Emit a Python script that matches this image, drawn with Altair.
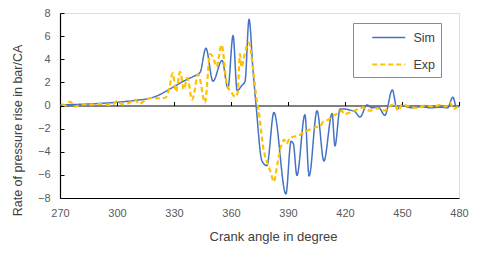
import altair as alt
import pandas as pd

sim_deg = [270, 280, 290, 300, 310, 317, 322, 328, 335, 340, 343.7, 346.8, 350.5, 355.3, 358.4,
           361.1, 363.2, 365.8, 367.4, 369.5, 371.6, 373.2, 376.3, 378.9, 382.6, 388.9, 391.6,
           392.8, 394.7, 398.9, 401.1, 405.3, 408.9, 413.2, 414.7, 417.4, 419.5, 422.6, 425,
           427.9, 431.6, 434.2, 437.4, 441, 444.9, 447.4, 450, 455, 460, 465, 470, 474, 476.8,
           478.6, 480]
sim_val = [0.05, 0.1, 0.17, 0.28, 0.45, 0.62, 0.9, 1.45, 2.1, 2.5, 2.85, 4.95, 2.1, 3.9, 1.5,
           6.05, 1.3, 1.75, 2.1, 7.45, 3.0, 0.0, -4.8, -5.2, -0.6, -7.65, -3.1,
           -3.3, -6.05, -0.8, -6.1, -0.45, -4.8, -0.7, -3.5, -0.3, -0.3, -0.4, -0.5,
           -1.0, 0.05, -0.2, -0.1, -0.85, 1.35, -0.3, 0.0, -0.2, -0.1, -0.2, -0.15, -0.2, 0.72,
           -0.1, -0.1]

exp_deg = [270.9, 273, 275.3, 277.9, 282, 286, 290, 294, 297, 299.8, 303, 306, 309.5, 311.6,
           315.6, 318, 322, 325.5, 327.5, 329.3, 331, 333.2, 335.2, 337, 339.5, 342.8, 346.3,
           349, 350.5, 352.5, 353.5, 355.1, 357.7, 360.4, 362.1, 363.5, 364.7, 365.6, 367,
           369.3, 371.7, 373.5, 374.4, 377, 379.6, 381, 382.5, 384.5, 386.5, 388, 389.2, 391,
           395.4, 399.8, 404, 406.8, 408.6, 411, 413.9, 416, 418.3, 419.5, 422.6, 426, 429.6,
           433, 436, 439, 441, 443, 446.3, 448, 450, 453, 458, 462, 467, 470, 473, 475.3, 477,
           480]
exp_val = [0.1, 0.0, 0.33, -0.1, 0.1, 0.08, 0.12, 0.1, 0.0, 0.35, 0.1, 0.2, 0.5, 0.15,
           0.55, 0.65, 0.62, 0.67, 1.5, 2.8, 1.2, 2.9, 1.4, 2.4, 0.5, 2.7, 0.25,
           4.45, 4.2, 3.35, 4.1, 5.25, 1.9, 1.1, 0.75, 1.1, 4.45, 3.3, 4.3,
           5.45, 3.05, 0.5, -0.3, -3.67, -5.2, -5.8, -6.6, -5.0, -3.45, -2.95, -3.3, -2.8,
           -2.6, -2.2, -1.9, -1.8, -1.4, -1.25, -0.87, -0.7, -0.45, -0.75, -0.6, -0.37, -0.17,
           -0.45, -0.25, -0.3, -0.45, -0.1, 0.1, -0.45, 0.1, -0.05, -0.2, 0.0, -0.1, 0.05, -0.1,
           0.25, -0.3, 0.0]

series_names = ["Sim", "Exp"]
x_ticks = [270, 300, 330, 360, 390, 420, 450, 480]
y_ticks = [-8, -6, -4, -2, 0, 2, 4, 6, 8]

df = pd.concat([
    pd.DataFrame({"deg": sim_deg, "val": sim_val, "series": "Sim", "order": range(len(sim_deg))}),
    pd.DataFrame({"deg": exp_deg, "val": exp_val, "series": "Exp", "order": range(len(exp_deg))}),
])

W, H = 399, 185
FONT = "Liberation Sans"

xscale = alt.Scale(domain=[270, 480], nice=False, zero=False)
yscale = alt.Scale(domain=[-8, 8], nice=False)

legend = alt.Legend(title=None, orient="none", legendX=293, legendY=10,
                    strokeColor="#1FB0E8", padding=5.5, fillColor="#ffffff",
                    symbolType="M-2,0H2", symbolSize=272, symbolStrokeWidth=1.8,
                    symbolOffset=20.75, rowPadding=10.5, labelOffset=15.25,
                    labelFont=FONT, labelFontSize=12.5, labelColor="#404040",
                    labelExpr="datum.label + '   '")

lines = alt.Chart(df).mark_line(interpolate="monotone").encode(
    x=alt.X("deg:Q", scale=xscale,
            axis=alt.Axis(values=x_ticks, ticks=False, grid=False, domainColor="#000000",
                          domainWidth=1.2, labelColor="#595959", labelFontSize=11,
                          labelPadding=9, labelFont=FONT, labelFlush=False,
                          labelOverlap=False, title="Crank  angle in degree",
                          titleFont=FONT, titleFontSize=13, titleFontWeight="normal",
                          titleColor="#404040", titleX=213, titleY=38,
                          titleBaseline="middle", titleAlign="center")),
    y=alt.Y("val:Q", scale=yscale,
            axis=alt.Axis(values=y_ticks, ticks=False, grid=False, domainColor="#000000",
                          domainWidth=1.2, labelColor="#595959", labelFontSize=11,
                          labelPadding=10, labelFont=FONT, labelFlush=False,
                          labelOverlap=False,
                          title="Rate of pressure rise  in bar/CA",
                          titleFont=FONT, titleFontSize=12.5, titleFontWeight="normal",
                          titleColor="#404040", titleX=-43, titleY=117,
                          titleBaseline="middle", titleAlign="center", titleAngle=-90)),
    color=alt.Color("series:N",
                    scale=alt.Scale(domain=series_names, range=["#4472C4", "#FFC000"]),
                    legend=legend),
    strokeDash=alt.StrokeDash("series:N",
                              scale=alt.Scale(domain=series_names, range=[[1, 0], [5, 3]]),
                              legend=legend),
    strokeWidth=alt.StrokeWidth("series:N",
                                scale=alt.Scale(domain=series_names, range=[1.5, 2.2]),
                                legend=None),
    order="order:Q",
)

ticks = alt.Chart(df).mark_point(opacity=0).encode(
    x=alt.X("deg:Q", scale=xscale,
            axis=alt.Axis(orient="top", offset=-H / 2, values=x_ticks, labels=False,
                          tickSize=4, tickColor="#000000", domainColor="#000000",
                          domainWidth=1.2, grid=False, title=None)),
    y=alt.Y("val:Q", scale=yscale,
            axis=alt.Axis(orient="right", offset=-W, values=y_ticks, labels=False,
                          tickSize=4, tickColor="#000000", domain=False, grid=False,
                          title=None)),
)

chart = alt.layer(ticks, lines).resolve_axis(x="independent", y="independent").properties(
    width=W, height=H,
    autosize=alt.AutoSizeParams(type="none"),
    padding={"left": 52, "top": 5, "right": 13, "bottom": 60},
).configure_view(stroke="#595959", strokeWidth=1.6).configure(background="#ffffff")

chart.save("out.html", embed_options={"renderer": "svg", "actions": False})
